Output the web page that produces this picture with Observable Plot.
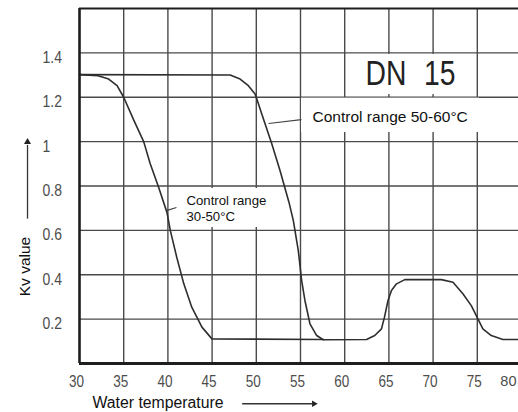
<!DOCTYPE html>
<html><head><meta charset="utf-8">
<script src="https://cdn.jsdelivr.net/npm/d3@7"></script>
<script src="https://cdn.jsdelivr.net/npm/@observablehq/plot@0.6"></script>
<style>
html,body{margin:0;padding:0;background:#fff;overflow:hidden;width:518px;height:412px}
</style></head><body><div id="chart"></div>
<script>
// tick values and labels
const xTicks = [30, 35, 40, 45, 50, 55, 60, 65, 70, 75, 80];
const yTicks = [0.2, 0.4, 0.6, 0.8, 1, 1.2, 1.4];
const yTickLabels = ["0.2", "0.4", "0.6", "0.8", "1", "1.2", "1.4"];

// curve: control range 30-50°C
const tempA = [30, 32.1, 33.3, 34.25, 35.0, 36.1, 37.26, 38.0, 38.95, 39.9, 40.27, 41.0, 41.8, 42.7, 43.85, 44.98, 57.6];
const kvA   = [1.302, 1.297, 1.282, 1.252, 1.2, 1.10, 1.0, 0.90, 0.794, 0.680, 0.60, 0.479, 0.359, 0.254, 0.164, 0.111, 0.108];

// curve: control range 50-60°C
const tempB = [30, 47.04, 48.17, 49.1, 49.86, 50.06, 50.62, 51.75, 52.69, 53.7, 54.19, 54.75, 55.13, 55.5, 56.07, 56.83, 57.57, 62.47, 63.4, 64.16, 64.5, 64.9, 65.29, 65.86, 66.8, 70.94, 72.25, 73.37, 74.32, 75.07, 75.63, 76.58, 77.9, 80];
const kvB   = [1.302, 1.30, 1.282, 1.252, 1.215, 1.192, 1.125, 0.99, 0.869, 0.726, 0.644, 0.509, 0.374, 0.284, 0.179, 0.126, 0.107, 0.108, 0.126, 0.156, 0.209, 0.284, 0.329, 0.359, 0.378, 0.378, 0.366, 0.314, 0.261, 0.201, 0.156, 0.126, 0.108, 0.108];

// annotations (in data units)
const noteText = ["DN 15", "Control range 50-60°C", "Control range\n30-50°C"];
const noteTemp = [67.44, 56.36, 42.1];
const noteKv   = [1.307, 1.109, 0.701];
const boxTemp1 = [60.4, 55.11, 41.2];
const boxTemp2 = [74.9, 75.25, 51.9];
const boxKv1   = [1.212, 1.041, 0.613];
const boxKv2   = [1.393, 1.196, 0.789];
const leaderTemp1 = [51.38, 39.84];
const leaderKv1   = [1.0816, 0.689];
const leaderTemp2 = [55.11, 40.97];
const leaderKv2   = [1.099, 0.703];

const xTitle = "Water temperature";
const yTitle = "Kv value";

const seriesA = tempA.map((t, i) => ({temp: t, kv: kvA[i]}));
const seriesB = tempB.map((t, i) => ({temp: t, kv: kvB[i]}));
const boxes = boxTemp1.map((t, i) => ({x1: t, x2: boxTemp2[i], y1: boxKv1[i], y2: boxKv2[i]}));
const leaders = leaderTemp1.map((t, i) => ({x1: t, y1: leaderKv1[i], x2: leaderTemp2[i], y2: leaderKv2[i]}));
const lastTick = xTicks[xTicks.length - 1];

const gridColor = "#4a4a4a";
const lineColor = "#2e2e2e";
const narrowFont = "NarrowX, 'Liberation Sans', Arial, sans-serif";
const mainFont = "'Liberation Sans', Arial, sans-serif";

const chart = Plot.plot({
  width: 518,
  height: 412,
  marginLeft: 79,
  marginRight: -3,
  marginTop: 8,
  marginBottom: 49,
  style: {background: "white", fontFamily: mainFont, overflow: "hidden"},
  x: {domain: [30, 80], axis: null},
  y: {domain: [0, 1.6], axis: null},
  marks: [
    Plot.ruleX(xTicks.slice(1), {x: d => d, stroke: gridColor, strokeWidth: 1.4}),
    Plot.ruleY(yTicks, {y: d => d, stroke: gridColor, strokeWidth: 1.4}),
    Plot.rect(boxes, {x1: "x1", x2: "x2", y1: "y1", y2: "y2", fill: "white"}),
    Plot.line(seriesA, {x: "temp", y: "kv", stroke: lineColor, strokeWidth: 1.6}),
    Plot.line(seriesB, {x: "temp", y: "kv", stroke: lineColor, strokeWidth: 1.6}),
    Plot.link(leaders, {x1: "x1", y1: "y1", x2: "x2", y2: "y2", stroke: "#444", strokeWidth: 1.2}),
    // frame
    Plot.ruleX([30], {x: d => d, stroke: "#1e1e1e", strokeWidth: 2.6}),
    Plot.ruleY([0], {y: d => d, stroke: "#1e1e1e", strokeWidth: 3}),
    Plot.ruleY([1.6], {y: d => d, stroke: "#1e1e1e", strokeWidth: 2.2}),
    // tick labels
    Plot.text(xTicks.filter(d => d !== lastTick), {x: d => d, text: d => String(d), frameAnchor: "bottom", dy: 18, dx: -3,
      fontFamily: narrowFont, fontSize: 16.5, fill: "#4d4d4d", lineAnchor: "middle"}),
    Plot.text([lastTick], {x: d => d, text: d => String(d), frameAnchor: "bottom", dy: 18, dx: -5,
      textAnchor: "end", fontFamily: mainFont, fontSize: 14.5, fill: "#4d4d4d", lineAnchor: "middle"}),
    Plot.text(yTicks, {y: d => d, text: (d, i) => yTickLabels[i], frameAnchor: "left", dx: -37, dy: 4.5,
      textAnchor: "start", fontFamily: narrowFont, fontSize: 17, fill: "#4d4d4d"}),
    // annotations
    Plot.text([0], {x: () => noteTemp[0], y: () => noteKv[0], text: () => noteText[0],
      fontFamily: narrowFont, fontSize: 34.5, fill: "#222", textAnchor: "middle"}),
    Plot.text([1], {x: () => noteTemp[1], y: () => noteKv[1], text: () => noteText[1],
      fontSize: 15.5, fill: "#111", textAnchor: "start"}),
    Plot.text([2], {x: () => noteTemp[2], y: () => noteKv[2], text: () => noteText[2],
      fontSize: 13.2, fill: "#111", textAnchor: "start", lineHeight: 1.22}),
    // axis titles with arrows
    Plot.text([yTitle], {x: () => 23.8, y: () => 0.437, text: d => d, rotate: -90,
      fontSize: 15.5, fill: "#111"}),
    Plot.link([0], {x1: () => 24.12, y1: () => 0.653, x2: () => 24.12, y2: () => 0.985, stroke: "#333", strokeWidth: 1.3}),
    Plot.dot([0], {x: () => 24.12, y: () => 0.998, symbol: "triangle", r: 2.6, fill: "#222", stroke: "none"}),
    Plot.text([xTitle], {x: () => 38.88, y: () => -0.1757, text: d => d,
      fontSize: 15.8, fill: "#111"}),
    Plot.link([0], {x1: () => 48.4, y1: () => -0.1815, x2: () => 56.3, y2: () => -0.1815, stroke: "#333", strokeWidth: 1.3}),
    Plot.dot([0], {x: () => 56.52, y: () => -0.1815, symbol: "triangle", r: 2.4, rotate: 90, fill: "#222", stroke: "none"})
  ]
});

document.getElementById("chart").appendChild(chart);

// condense the narrow-style texts horizontally (no narrow font is installed)
d3.select(chart).selectAll("g").filter(function() {
  const f = this.getAttribute("font-family");
  return f && f.indexOf("NarrowX") >= 0;
}).selectAll("text").each(function() {
  if (this.textContent === "DN 15") this.style.wordSpacing = "12px";
  const len = this.getComputedTextLength();
  if (len > 0) {
    this.setAttribute("textLength", (len * 0.82).toFixed(2));
    this.setAttribute("lengthAdjust", "spacingAndGlyphs");
  }
});
</script>
</body></html>
